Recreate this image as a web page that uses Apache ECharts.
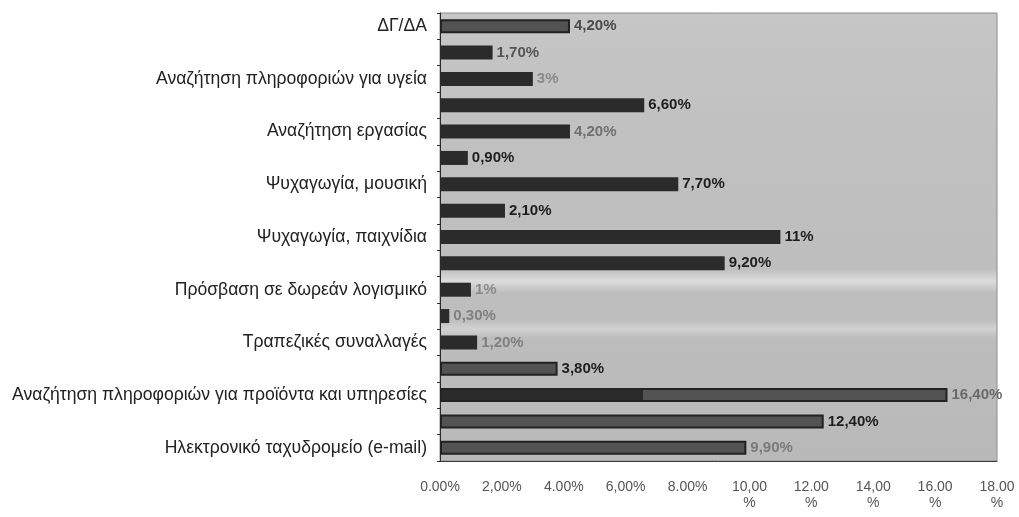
<!DOCTYPE html>
<html>
<head>
<meta charset="utf-8">
<script src="https://cdn.jsdelivr.net/npm/echarts@6/dist/echarts.min.js"></script>
<style>
  html, body { margin: 0; padding: 0; background: #ffffff; }
  #chart { width: 1019px; height: 517px; }
</style>
</head>
<body>
<div id="chart"></div>
<script>
// Internet uses (share of respondents, %), one bar per row, top to bottom
const categories = [
  'ΔΓ/ΔΑ', '',
  'Αναζήτηση πληροφοριών για υγεία', '',
  'Αναζήτηση εργασίας', '',
  'Ψυχαγωγία, μουσική', '',
  'Ψυχαγωγία, παιχνίδια', '',
  'Πρόσβαση σε δωρεάν λογισμικό', '',
  'Τραπεζικές συναλλαγές', '',
  'Αναζήτηση πληροφοριών για προϊόντα και υπηρεσίες', '',
  'Ηλεκτρονικό ταχυδρομείο (e-mail)'
];
const values = [4.2, 1.7, 3, 6.6, 4.2, 0.9, 7.7, 2.1, 11, 9.2, 1, 0.3, 1.2, 3.8, 16.4, 12.4, 9.9];
const xTickLabels = ['0.00%', '2,00%', '4.00%', '6,00%', '8.00%', '10,00\n%', '12.00\n%', '14,00\n%', '16.00\n%', '18.00\n%'];
const xMin = 0, xMax = 18, xStep = 2;

// Bar fill styles: 'dark' solid, 'grey' outlined, 'split' half dark / half grey
const barKind = ['grey', 'dark', 'dark', 'dark', 'dark', 'dark', 'dark', 'dark', 'dark', 'dark',
                 'dark', 'dark', 'dark', 'grey', 'split', 'grey', 'grey'];
// Value-label ink per row
const labelInk = ['#4a4a4a', '#555555', '#8a8a8a', '#1e1e1e', '#707070', '#1e1e1e', '#1e1e1e', '#1e1e1e', '#1e1e1e', '#1e1e1e',
                  '#8a8a8a', '#808080', '#808080', '#1e1e1e', '#6a6a6a', '#1e1e1e', '#7a7a7a'];

const DARK = '#2b2b2b';
const GREY = '#535353';

function fmtPct(v) {
  return Number.isInteger(v) ? v + '%' : v.toFixed(2).replace('.', ',') + '%';
}

function barStyle(kind) {
  if (kind === 'dark') return { color: DARK };
  if (kind === 'grey') return { color: GREY, borderColor: '#222222', borderWidth: 2 };
  return {
    color: {
      type: 'linear', x: 0, y: 0, x2: 1, y2: 0,
      colorStops: [
        { offset: 0, color: DARK }, { offset: 0.4, color: DARK },
        { offset: 0.4, color: GREY }, { offset: 1, color: GREY }
      ]
    },
    borderColor: '#222222', borderWidth: 2
  };
}

const seriesData = values.map((v, i) => ({
  value: v,
  itemStyle: barStyle(barKind[i]),
  label: { color: labelInk[i] }
}));

const chart = echarts.init(document.getElementById('chart'), null, { renderer: 'canvas' });
chart.setOption({
  animation: false,
  backgroundColor: '#ffffff',
  grid: {
    left: 440, right: 22, top: 13, bottom: 56,
    show: true,
    borderColor: '#8c8c8c', borderWidth: 1,
    backgroundColor: {
      type: 'linear', x: 0, y: 0, x2: 0, y2: 1,
      colorStops: [
        { offset: 0, color: '#c6c6c6' },
        { offset: 0.3, color: '#c0c0c0' },
        { offset: 0.57, color: '#bebebe' },
        { offset: 0.598, color: '#dcdcdc' },
        { offset: 0.625, color: '#bdbdbd' },
        { offset: 0.685, color: '#bebebe' },
        { offset: 0.705, color: '#d2d2d2' },
        { offset: 0.725, color: '#bcbcbc' },
        { offset: 1, color: '#b9b9b9' }
      ]
    }
  },
  xAxis: {
    type: 'value',
    min: xMin, max: xMax, interval: xStep,
    splitLine: { show: false },
    axisLine: { show: true, lineStyle: { color: '#3a3a3a', width: 1 } },
    axisTick: { show: false },
    axisLabel: {
      margin: 18,
      color: '#555555',
      fontFamily: 'Liberation Sans, Arial, sans-serif',
      fontSize: 14,
      lineHeight: 16,
      formatter: v => {
        const i = Math.round((v - xMin) / xStep);
        return xTickLabels[i] !== undefined ? xTickLabels[i] : '';
      }
    }
  },
  yAxis: {
    type: 'category',
    inverse: true,
    data: categories,
    axisLine: { show: true, lineStyle: { color: '#2a2a2a', width: 1 } },
    axisTick: { show: true, interval: 0, length: 3, lineStyle: { color: '#2a2a2a' } },
    axisLabel: {
      interval: 1,
      margin: 13,
      color: '#222222',
      fontFamily: 'Liberation Sans, Arial, sans-serif',
      fontSize: 17.6
    }
  },
  series: [{
    type: 'bar',
    data: seriesData,
    barWidth: 14,
    label: {
      show: true,
      position: 'right',
      distance: 4,
      fontFamily: 'Liberation Sans, Arial, sans-serif',
      fontWeight: 'bold',
      fontSize: 15,
      formatter: p => fmtPct(p.value)
    }
  }]
});
</script>
</body>
</html>
